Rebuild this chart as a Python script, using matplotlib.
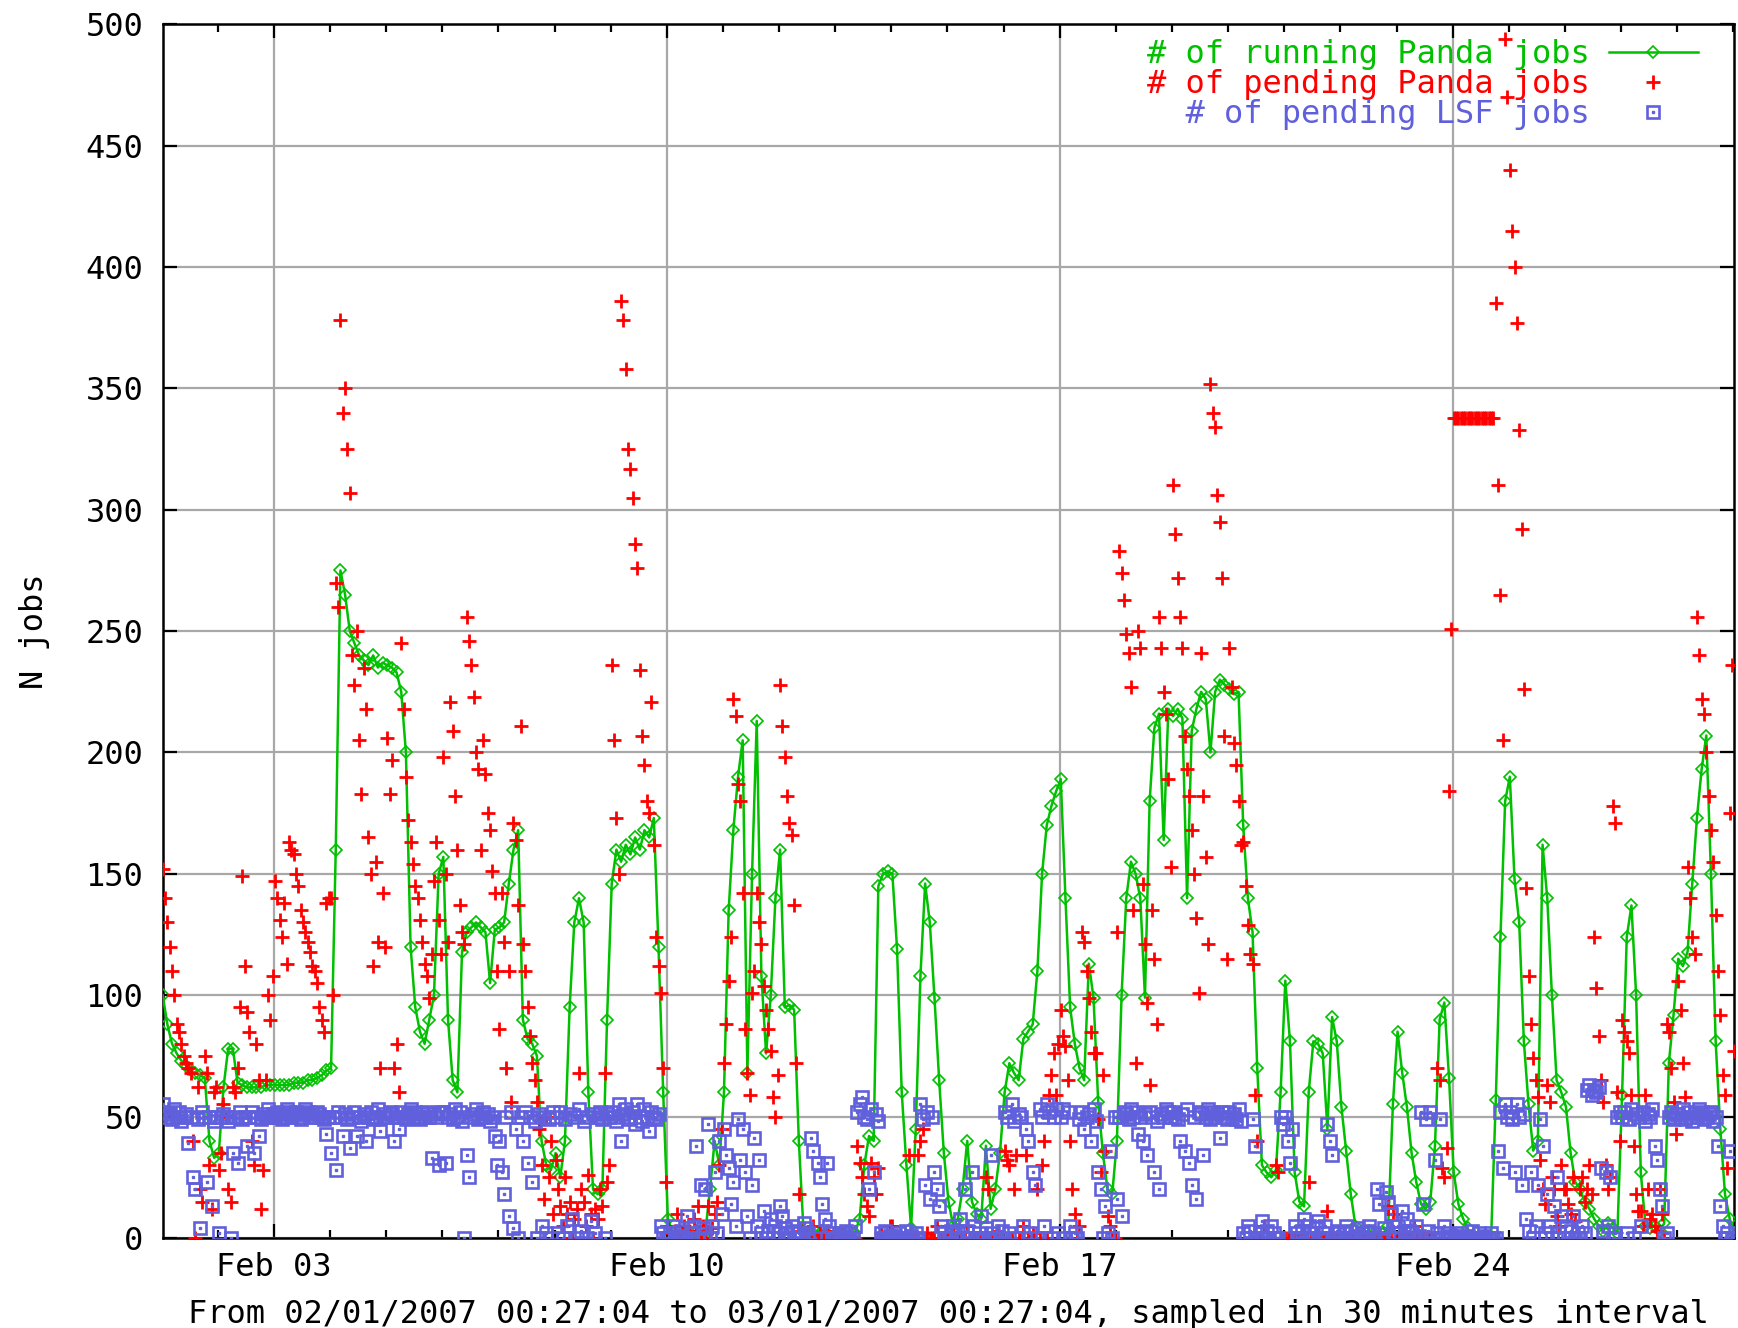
import numpy as np
import matplotlib
matplotlib.use('Agg')
import matplotlib.pyplot as plt
import matplotlib.dates as mdates
from matplotlib.legend_handler import HandlerTuple

plt.rcParams['font.family'] = ['DejaVu Sans Mono']

# sampling start and the two sampling steps used for the read-off values
start = np.datetime64('2007-02-01T00:27:04')
end = np.datetime64('2007-03-01T00:27:04')

# running Panda jobs, one value every 2 hours (one row per day)
running_panda = [
    [100, 88, 80, 76, 73, 71, 69, 68, 67, 66, 40, 33],
    [35, 62, 78, 78, 64, 63, 62, 62, 62, 62, 63, 63],
    [63, 63, 63, 63, 64, 64, 64, 65, 65, 66, 67, 69],
    [70, 160, 275, 265, 250, 245, 240, 238, 236, 240, 235, 237],
    [236, 235, 233, 225, 200, 120, 95, 85, 80, 90, 100, 150],
    [157, 90, 65, 60, 118, 126, 128, 130, 128, 126, 105, 127],
    [128, 130, 146, 160, 168, 90, 82, 80, 75, 40, 30, 28],
    [35, 25, 40, 95, 130, 140, 130, 60, 20, 18, 20, 90],
    [146, 160, 155, 162, 158, 165, 160, 168, 165, 173, 120, 60],
    [8, 2, 0, 0, 1, 2, 3, 0, 2, 20, 40, 30],
    [60, 135, 168, 190, 205, 68, 150, 213, 108, 76, 100, 140],
    [160, 95, 96, 94, 40, 3, 2, 0, 1, 3, 2, 0],
    [1, 2, 0, 3, 2, 8, 30, 42, 40, 145, 150, 151],
    [150, 119, 60, 30, 4, 45, 108, 146, 130, 99, 65, 35],
    [15, 5, 8, 20, 40, 15, 10, 8, 38, 12, 20, 35],
    [60, 72, 68, 65, 82, 85, 88, 110, 150, 170, 178, 184],
    [189, 140, 95, 80, 70, 65, 113, 99, 56, 35, 20, 18],
    [40, 100, 140, 155, 150, 140, 99, 180, 210, 216, 164, 218],
    [215, 218, 214, 140, 209, 218, 225, 222, 200, 225, 230, 228],
    [226, 224, 225, 170, 140, 126, 70, 30, 27, 25, 28, 60],
    [106, 81, 27, 15, 13, 60, 81, 80, 76, 45, 91, 81],
    [54, 36, 18, 5, 2, 1, 3, 2, 1, 2, 5, 55],
    [85, 68, 54, 35, 23, 14, 12, 15, 38, 90, 97, 66],
    [27, 14, 8, 4, 0, 0, 0, 0, 0, 57, 124, 180],
    [190, 148, 130, 81, 55, 36, 40, 162, 140, 100, 65, 60],
    [54, 35, 23, 20, 15, 12, 8, 5, 3, 6, 4, 2],
    [59, 124, 137, 100, 27, 5, 4, 5, 3, 6, 72, 92],
    [115, 112, 118, 146, 173, 193, 207, 150, 81, 45, 18, 8],
    [2],
]

# pending Panda jobs, one value every hour (one row per day)
pending_panda = [
    [152, 140, 130, 120, 110, 100, 88, 85, 80, 75, 72, 70, 68, 40, 0, 62, 20, 15, 75, 68, 30, 12, 60, 62],
    [28, 35, 55, 50, 20, 15, 62, 60, 70, 95, 149, 112, 93, 85, 40, 30, 80, 65, 12, 28, 65, 100, 90, 108],
    [147, 140, 131, 124, 138, 113, 163, 160, 158, 150, 145, 135, 130, 126, 122, 118, 112, 110, 105, 95, 90, 85, 138, 140],
    [140, 100, 270, 260, 378, 340, 350, 325, 307, 240, 228, 250, 205, 183, 235, 218, 165, 150, 112, 155, 122, 70, 142, 120],
    [206, 183, 197, 70, 80, 60, 245, 218, 190, 172, 163, 154, 145, 140, 131, 122, 113, 108, 99, 117, 147, 163, 131, 117],
    [198, 150, 122, 221, 209, 182, 160, 137, 126, 121, 256, 246, 236, 223, 200, 193, 160, 205, 191, 175, 168, 151, 142, 110],
    [86, 142, 122, 70, 110, 56, 171, 164, 137, 211, 121, 110, 95, 83, 72, 65, 56, 45, 30, 16, 50, 25, 40, 10],
    [32, 20, 13, 5, 25, 10, 15, 0, 8, 12, 68, 20, 15, 5, 26, 10, 0, 12, 8, 20, 13, 68, 23, 30],
    [236, 205, 173, 150, 386, 378, 358, 325, 317, 305, 286, 276, 234, 207, 195, 180, 175, 221, 162, 124, 112, 101, 70, 23],
    [5, 2, 0, 3, 10, 0, 2, 5, 0, 3, 0, 8, 2, 13, 0, 5, 3, 13, 0, 4, 10, 15, 30, 45],
    [72, 88, 106, 124, 222, 215, 187, 180, 142, 86, 68, 59, 101, 110, 142, 130, 121, 104, 94, 86, 77, 58, 50, 67],
    [228, 211, 198, 182, 171, 166, 137, 72, 18, 3, 0, 2, 0, 0, 5, 0, 0, 2, 0, 0, 3, 0, 0, 0],
    [0, 0, 2, 0, 0, 0, 0, 0, 0, 38, 31, 25, 18, 13, 9, 31, 25, 18, 29, 2, 0, 0, 0, 5],
    [5, 0, 0, 0, 0, 0, 0, 34, 0, 0, 0, 34, 40, 45, 0, 2, 0, 0, 0, 5, 0, 0, 0, 0],
    [0, 0, 2, 0, 0, 0, 0, 0, 5, 0, 0, 0, 0, 0, 0, 0, 25, 20, 0, 0, 0, 3, 0, 0],
    [36, 32, 30, 0, 20, 34, 0, 0, 5, 34, 0, 0, 2, 0, 20, 0, 30, 40, 0, 59, 67, 76, 59, 80],
    [94, 83, 79, 65, 40, 20, 10, 0, 5, 126, 122, 110, 99, 85, 76, 76, 49, 27, 67, 36, 9, 5, 0, 0],
    [126, 283, 274, 263, 249, 241, 227, 135, 72, 250, 243, 146, 121, 97, 63, 135, 115, 88, 256, 243, 225, 216, 189, 153],
    [310, 290, 272, 256, 243, 207, 193, 182, 168, 150, 132, 101, 241, 182, 157, 121, 352, 340, 334, 306, 295, 272, 207, 115],
    [243, 227, 204, 195, 180, 162, 163, 145, 129, 117, 113, 59, 40, 0, 0, 5, 0, 0, 0, 0, 30, 27, 0, 0],
    [0, 0, 0, 0, 0, 0, 0, 0, 0, 0, 23, 0, 0, 0, 0, 0, 0, 0, 11, 0, 0, 0, 0, 0],
    [0, 0, 0, 0, 0, 0, 0, 0, 0, 0, 0, 0, 0, 0, 0, 0, 0, 0, 0, 0, 13, 0, 10, 0],
    [0, 0, 0, 0, 0, 0, 0, 5, 0, 0, 0, 0, 0, 0, 0, 0, 0, 70, 65, 29, 25, 37, 184, 251],
    [338, 338, 338, 338, 338, 338, 338, 338, 338, 338, 338, 338, 338, 338, 338, 338, 338, 338, 385, 310, 265, 205, 494, 470],
    [440, 415, 400, 377, 333, 292, 226, 144, 108, 88, 74, 65, 58, 32, 20, 14, 63, 56, 25, 20, 9, 5, 30, 20],
    [20, 14, 10, 25, 7, 0, 20, 25, 15, 20, 30, 18, 124, 103, 83, 65, 56, 30, 20, 25, 178, 171, 60, 40],
    [90, 85, 81, 76, 59, 38, 18, 11, 11, 5, 59, 20, 8, 10, 5, 3, 20, 10, 0, 88, 85, 70, 56, 43],
    [106, 94, 72, 58, 153, 140, 124, 117, 256, 240, 222, 216, 200, 182, 168, 155, 133, 110, 92, 67, 59, 29, 175, 236],
    [77],
]

# pending LSF jobs, one value every hour (one row per day)
pending_lsf = [
    [55, 52, 50, 51, 49, 53, 50, 52, 48, 50, 51, 39, 50, 25, 20, 49, 4, 52, 50, 23, 50, 13, 48, 50],
    [2, 50, 51, 50, 48, 0, 35, 50, 31, 52, 49, 50, 38, 50, 52, 35, 50, 42, 49, 51, 50, 53, 50, 51],
    [50, 52, 51, 49, 50, 53, 52, 50, 51, 52, 50, 49, 51, 53, 52, 50, 51, 50, 52, 51, 50, 49, 43, 50],
    [35, 50, 28, 52, 50, 42, 51, 49, 37, 50, 52, 42, 50, 48, 51, 40, 50, 52, 49, 50, 53, 44, 50, 51],
    [50, 52, 51, 40, 50, 45, 52, 50, 49, 51, 53, 50, 52, 50, 49, 51, 50, 52, 50, 33, 51, 50, 30, 52],
    [52, 31, 50, 51, 49, 53, 50, 52, 48, 0, 34, 25, 50, 51, 53, 49, 50, 52, 50, 51, 48, 50, 42, 30],
    [40, 27, 18, 50, 9, 52, 4, 45, 0, 50, 40, 52, 31, 50, 23, 48, 0, 51, 5, 50, 2, 49, 0, 52],
    [50, 2, 52, 0, 49, 5, 51, 8, 50, 0, 53, 3, 48, 0, 50, 7, 51, 2, 50, 52, 49, 0, 51, 50],
    [52, 50, 48, 55, 40, 51, 53, 49, 50, 52, 47, 55, 50, 48, 53, 50, 44, 52, 50, 49, 51, 5, 2, 0],
    [0, 2, 5, 0, 1, 0, 3, 0, 9, 0, 2, 5, 38, 0, 22, 4, 20, 47, 0, 5, 27, 2, 40, 10],
    [45, 34, 29, 14, 23, 5, 49, 32, 45, 27, 9, 0, 22, 41, 5, 32, 2, 11, 0, 3, 8, 0, 5, 2],
    [13, 9, 4, 2, 0, 5, 3, 0, 2, 0, 6, 4, 2, 41, 36, 0, 31, 25, 14, 8, 31, 5, 2, 0],
    [0, 2, 0, 1, 3, 0, 2, 0, 5, 52, 55, 58, 50, 49, 20, 53, 27, 51, 48, 2, 0, 3, 0, 1],
    [0, 1, 0, 2, 0, 0, 3, 0, 1, 0, 2, 0, 55, 49, 22, 52, 16, 50, 27, 20, 13, 5, 2, 0],
    [0, 3, 5, 0, 2, 8, 0, 20, 3, 0, 27, 5, 0, 2, 9, 0, 4, 0, 34, 2, 0, 5, 0, 3],
    [52, 50, 2, 55, 48, 0, 51, 50, 5, 45, 40, 2, 27, 22, 0, 53, 50, 5, 55, 52, 0, 50, 53, 2],
    [50, 53, 0, 52, 5, 0, 2, 0, 49, 52, 45, 50, 51, 40, 53, 48, 27, 20, 0, 13, 2, 36, 0, 50],
    [16, 50, 9, 52, 51, 49, 53, 50, 52, 43, 50, 40, 51, 34, 52, 50, 27, 48, 20, 51, 50, 53, 52, 50],
    [52, 50, 49, 40, 51, 36, 53, 31, 22, 50, 16, 52, 51, 34, 50, 53, 49, 52, 50, 51, 41, 52, 50, 49],
    [52, 50, 51, 49, 53, 48, 2, 0, 5, 3, 49, 38, 0, 2, 7, 0, 3, 0, 5, 2, 0, 0, 50, 47],
    [50, 40, 31, 45, 5, 2, 0, 3, 8, 0, 5, 2, 0, 4, 7, 0, 2, 5, 47, 40, 34, 0, 3, 2],
    [0, 2, 5, 0, 3, 0, 1, 4, 0, 2, 0, 3, 5, 0, 2, 20, 14, 0, 4, 19, 15, 10, 5, 2],
    [5, 2, 11, 0, 8, 3, 2, 0, 5, 1, 52, 14, 49, 3, 52, 0, 32, 2, 49, 0, 5, 2, 0, 1],
    [0, 1, 0, 2, 0, 0, 1, 0, 3, 0, 0, 2, 0, 1, 0, 0, 2, 0, 0, 36, 52, 29, 55, 50],
    [52, 49, 27, 55, 50, 22, 51, 8, 3, 27, 0, 5, 22, 49, 38, 2, 18, 5, 0, 13, 25, 2, 9, 0],
    [5, 0, 3, 9, 0, 2, 0, 5, 2, 61, 63, 59, 61, 60, 62, 29, 3, 27, 5, 25, 0, 2, 50, 52],
    [50, 52, 2, 49, 53, 0, 51, 50, 5, 52, 48, 51, 50, 53, 38, 32, 20, 13, 0, 2, 50, 52, 49, 51],
    [51, 50, 53, 49, 52, 50, 48, 51, 50, 53, 52, 49, 50, 51, 52, 48, 50, 38, 13, 5, 0, 2, 36, 0],
    [0],
]

GREEN = '#00c000'
RED = '#ff0000'
BLUE = '#6060dc'
FS = 23

running = np.concatenate(running_panda)
pend_panda = np.concatenate(pending_panda)
pend_lsf = np.concatenate(pending_lsf)

t_run = start + np.arange(len(running)) * np.timedelta64(2, 'h')
t_panda = start + np.arange(len(pend_panda)) * np.timedelta64(1, 'h')
t_lsf = start + np.arange(len(pend_lsf)) * np.timedelta64(1, 'h')

fig = plt.figure(figsize=(17.38, 13.28), dpi=100)
ax = fig.add_axes([0.0936, 0.0678, 0.9043, 0.9139])
ax.set_axisbelow(True)

l_run, = ax.plot(t_run, running, color=GREEN, lw=1.8, marker='D', ms=6,
                 mfc='none', mec=GREEN, mew=1.2, zorder=3)
l_panda, = ax.plot(t_panda, pend_panda, ls='none', marker='+', ms=10, mew=2.0,
                   color=RED, zorder=4)
l_lsf, = ax.plot(t_lsf, pend_lsf, ls='none', marker='s', ms=8.5, mfc='none',
                 mec=BLUE, mew=1.9, zorder=5)
l_dot, = ax.plot(t_lsf, pend_lsf, ls='none', marker='s', ms=2.0, color=BLUE, zorder=5)

ax.set_xlim(start, end)
ax.set_ylim(0, 500)
ax.set_yticks(np.arange(0, 501, 50))
ax.xaxis.set_major_locator(mdates.DayLocator(bymonthday=[3, 10, 17, 24]))
ax.xaxis.set_minor_locator(mdates.DayLocator())
ax.xaxis.set_major_formatter(mdates.DateFormatter('%b %d'))

ax.grid(True, which='major', color='#a8a8a8', lw=1.6)
ax.tick_params(which='both', direction='in', top=True, right=True,
               labelsize=FS, width=1.6)
ax.tick_params(which='major', length=10)
ax.tick_params(which='minor', length=6)
ax.tick_params(axis='x', pad=10)
ax.tick_params(axis='y', pad=14)
for sp in ax.spines.values():
    sp.set_linewidth(1.8)

ax.set_ylabel('N jobs', fontsize=FS)
ax.yaxis.set_label_coords(-0.072, 0.5)
ax.set_xlabel('From 02/01/2007 00:27:04 to 03/01/2007 00:27:04, sampled in 30 minutes interval',
              fontsize=FS)
ax.xaxis.set_label_coords(0.5, -0.05)

leg = ax.legend([l_run, l_panda, (l_lsf, l_dot)],
                ['# of running Panda jobs', '# of pending Panda jobs', '  # of pending LSF jobs'],
                handler_map={tuple: HandlerTuple(ndivide=1)},
                loc='upper right', bbox_to_anchor=(0.977, 0.988), frameon=False,
                markerfirst=False, handlelength=2.8, handletextpad=0.6,
                labelspacing=-0.03, borderpad=0, borderaxespad=0, numpoints=1,
                prop={'family': 'DejaVu Sans Mono', 'size': FS},
                labelcolor=[GREEN, RED, BLUE])

fig.savefig('out.png', dpi=100)
